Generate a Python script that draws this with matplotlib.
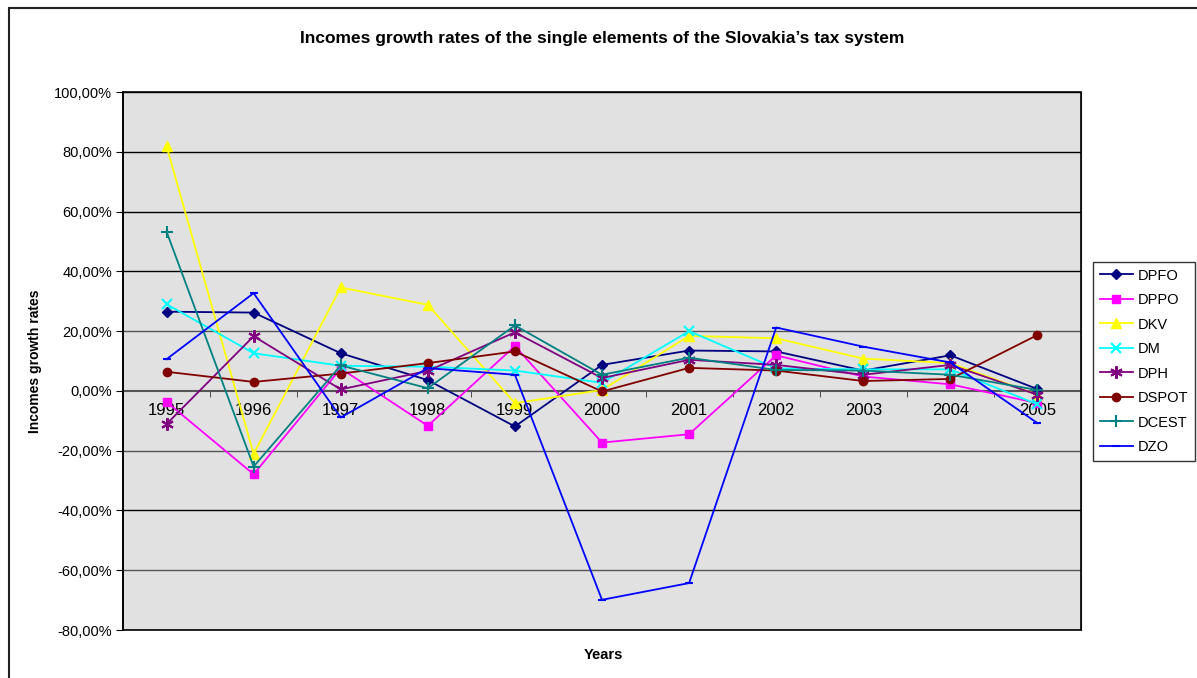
import numpy as np
import matplotlib
matplotlib.use("Agg")
from matplotlib import pyplot as plt
from matplotlib.ticker import FuncFormatter, FixedLocator
from matplotlib.patches import Rectangle

plt.rcParams['font.family'] = ['Liberation Sans', 'DejaVu Sans']

# ===== Data =====
years = ['1995', '1996', '1997', '1998', '1999', '2000', '2001', '2002', '2003', '2004', '2005']

dpfo = [26.5, 26.2, 12.6, 3.6, -11.9, 8.7, 13.5, 13.2, 6.8, 11.9, 0.6]
dppo = [-3.7, -27.9, 7.5, -11.7, 15.0, -17.3, -14.5, 11.9, 4.8, 2.2, -4.1]
dkv = [81.9, -21.1, 34.6, 28.8, -4.1, 0.3, 18.4, 17.6, 10.8, 9.3, -1.3]
dm = [29.0, 12.6, 8.4, 8.1, 6.8, 2.7, 20.0, 7.5, 7.2, 7.2, -4.5]
dph = [-11.1, 18.3, 0.5, 6.7, 19.6, 4.3, 10.4, 8.7, 5.4, 8.7, -1.3]
dspot = [6.4, 3.0, 5.8, 9.3, 13.2, -0.2, 7.7, 6.8, 3.3, 4.0, 18.7]
dcest = [53.3, -25.3, 8.5, 0.9, 21.9, 5.4, 11.1, 7.0, 6.8, 5.4, 0.3]
dzo = [10.6, 32.7, -8.9, 7.6, 5.4, -69.9, -64.3, 21.2, 14.8, 9.5, -10.8]

# name, values, colour, marker, marker size
series = [
    ('DPFO', dpfo, '#000080', 'D', 5),
    ('DPPO', dppo, '#FF00FF', 's', 6),
    ('DKV', dkv, '#FFFF00', '^', 7),
    ('DM', dm, '#00FFFF', 'x', 7),
    ('DPH', dph, '#800080', (6, 2, 0), 9),
    ('DSPOT', dspot, '#800000', 'o', 6),
    ('DCEST', dcest, '#008080', '+', 8),
    ('DZO', dzo, '#0000FF', '_', 6),
]

fig = plt.figure(figsize=(11.97, 6.78), dpi=100)
ax = fig.add_axes([123 / 1197, 1 - 630 / 678, (1081 - 123) / 1197, (630 - 92) / 678])
ax.set_facecolor('#E1E1E1')

x = np.arange(len(years))
for name, vals, col, mk, ms in series:
    ax.plot(x, vals, color=col, marker=mk, markersize=ms, linewidth=1.3,
            markeredgewidth=1.5 if mk in ('x', '+', '_') or isinstance(mk, tuple) else 1.0,
            label=name, zorder=3, clip_on=False)

ax.set_xlim(-0.5, len(years) - 0.5)
ax.set_ylim(-80, 100)

# horizontal gridlines
for yv in range(-80, 101, 20):
    if yv != 0:
        ax.axhline(yv, color='black' if yv in (100, 80, 60, 40, -40, -80) else '#555555',
                   linewidth=1.0, zorder=1)

ax.yaxis.set_major_locator(FixedLocator(np.arange(-80, 101, 20)))
ax.yaxis.set_major_formatter(FuncFormatter(lambda v, p: f"{v:.2f}%".replace('.', ',')))
ax.tick_params(axis='y', direction='out', length=5, labelsize=10.5, pad=3)

# category axis crosses at zero
ax.spines['bottom'].set_position(('data', 0))
ax.spines['bottom'].set_color('#555555')
ax.spines['bottom'].set_linewidth(1.5)
ax.spines['top'].set_visible(False)
ax.spines['right'].set_color('#555555')
ax.spines['left'].set_linewidth(1.2)
ax.set_xticks(x)
ax.set_xticklabels(years)
ax.set_xticks(np.arange(-0.5, len(years), 1), minor=True)
ax.tick_params(axis='x', which='major', length=0, labelsize=12, pad=9)
ax.tick_params(axis='x', which='minor', direction='out', length=4, color='#333333')

ax.add_patch(Rectangle((0, 0), 1, 1, transform=ax.transAxes, fill=False,
                       edgecolor='black', linewidth=1.2, zorder=4, clip_on=False))

ax.set_title("Incomes growth rates of the single elements of the Slovakia\u2019s tax system",
             fontsize=12.5, fontweight='bold', pad=35)
fig.text(35 / 1197, 1 - 361 / 678, 'Incomes growth rates', rotation=90, fontsize=10,
         fontweight='bold', ha='center', va='center')
fig.text(603 / 1197, 1 - 655 / 678, 'Years', fontsize=10.5, fontweight='bold',
         ha='center', va='center')

leg = ax.legend(loc='upper left', bbox_to_anchor=(1093 / 1197, 1 - 262 / 678),
                bbox_transform=fig.transFigure, fontsize=10.5, frameon=True, fancybox=False,
                edgecolor='black', borderpad=0.45, labelspacing=0.72, handlelength=2.3,
                handletextpad=0.3, borderaxespad=0)
leg.get_frame().set_linewidth(1.0)

# outer chart border
fig.add_artist(Rectangle((9 / 1197, -0.05), 1.2, 1 - 8 / 678 + 0.05, transform=fig.transFigure,
                         fill=False, edgecolor='#222222', linewidth=1.5))

fig.savefig('out.png', dpi=100)
